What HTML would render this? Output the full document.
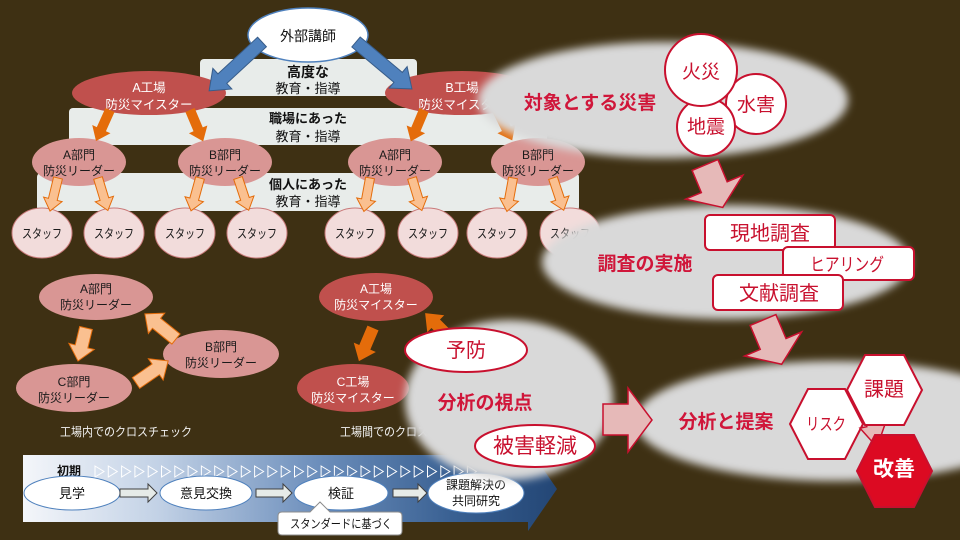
<!DOCTYPE html>
<html><head><meta charset="utf-8">
<style>
html,body{margin:0;padding:0;background:#3e3013;}
svg{display:block;}
text{font-family:"Liberation Sans","Noto Sans CJK JP",sans-serif;}
</style></head><body>
<svg width="960" height="540" viewBox="0 0 960 540" xmlns="http://www.w3.org/2000/svg">
<defs>
<filter id="blur" filterUnits="userSpaceOnUse" x="0" y="0" width="960" height="540"><feGaussianBlur stdDeviation="4.2"/></filter>
<linearGradient id="tl" x1="23" y1="0" x2="557" y2="0" gradientUnits="userSpaceOnUse">
<stop offset="0" stop-color="#f4f6fa"/>
<stop offset="0.25" stop-color="#c3d2e6"/>
<stop offset="0.55" stop-color="#6d8fbc"/>
<stop offset="0.8" stop-color="#3a6193"/>
<stop offset="1" stop-color="#234675"/>
</linearGradient>
</defs>
<rect width="960" height="540" fill="#3e3013"/>

<!-- bands -->
<rect x="200" y="59" width="217" height="37" rx="4" fill="#e8ecea"/>
<rect x="69" y="108" width="478" height="37" rx="4" fill="#e8ecea"/>
<rect x="37" y="173" width="542" height="38" rx="4" fill="#e8ecea"/>
<g font-size="13" fill="#111" text-anchor="middle">
<text x="308" y="77" font-weight="bold" font-size="14">高度な</text>
<text x="308" y="93">教育・指導</text>
<text x="308" y="123" font-weight="bold">職場にあった</text>
<text x="308" y="141">教育・指導</text>
<text x="308" y="189" font-weight="bold">個人にあった</text>
<text x="308" y="206">教育・指導</text>
</g>

<!-- factory ellipses -->
<ellipse cx="149" cy="93" rx="77" ry="22" fill="#c0504d"/>
<ellipse cx="462" cy="93" rx="77" ry="22" fill="#c0504d"/>
<g font-size="12.5" fill="#fff" text-anchor="middle">
<text x="149" y="92">A工場</text><text x="149" y="109">防災マイスター</text>
<text x="462" y="92">B工場</text><text x="462" y="109">防災マイスター</text>
</g>

<!-- dept ellipses -->
<g fill="#d99694">
<ellipse cx="79" cy="162" rx="47" ry="24"/>
<ellipse cx="225" cy="162" rx="47" ry="24"/>
<ellipse cx="395" cy="162" rx="47" ry="24"/>
<ellipse cx="538" cy="162" rx="47" ry="24"/>
</g>
<g font-size="12" fill="#1a1a1a" text-anchor="middle">
<text x="79" y="159">A部門</text><text x="79" y="175">防災リーダー</text>
<text x="225" y="159">B部門</text><text x="225" y="175">防災リーダー</text>
<text x="395" y="159">A部門</text><text x="395" y="175">防災リーダー</text>
<text x="538" y="159">B部門</text><text x="538" y="175">防災リーダー</text>
</g>

<!-- staff -->
<g fill="#f2dcdb" stroke="#c97a7a" stroke-width="1">
<ellipse cx="42" cy="233" rx="30" ry="25"/>
<ellipse cx="114" cy="233" rx="30" ry="25"/>
<ellipse cx="185" cy="233" rx="30" ry="25"/>
<ellipse cx="257" cy="233" rx="30" ry="25"/>
<ellipse cx="355" cy="233" rx="30" ry="25"/>
<ellipse cx="428" cy="233" rx="30" ry="25"/>
<ellipse cx="497" cy="233" rx="30" ry="25"/>
<ellipse cx="570" cy="233" rx="30" ry="25"/>
</g>
<g font-size="12.5" fill="#1a1a1a" text-anchor="middle">
<text x="42" y="238" textLength="40" lengthAdjust="spacingAndGlyphs">スタッフ</text>
<text x="114" y="238" textLength="40" lengthAdjust="spacingAndGlyphs">スタッフ</text>
<text x="185" y="238" textLength="40" lengthAdjust="spacingAndGlyphs">スタッフ</text>
<text x="257" y="238" textLength="40" lengthAdjust="spacingAndGlyphs">スタッフ</text>
<text x="355" y="238" textLength="40" lengthAdjust="spacingAndGlyphs">スタッフ</text>
<text x="428" y="238" textLength="40" lengthAdjust="spacingAndGlyphs">スタッフ</text>
<text x="497" y="238" textLength="40" lengthAdjust="spacingAndGlyphs">スタッフ</text>
<text x="570" y="238" textLength="40" lengthAdjust="spacingAndGlyphs">スタッフ</text>
</g>

<!-- external lecturer -->
<ellipse cx="308" cy="35" rx="60" ry="27" fill="#fff" stroke="#4f81bd" stroke-width="1.5"/>
<text x="308" y="41" font-size="14" fill="#111" text-anchor="middle">外部講師</text>

<!-- blue arrows -->
<g fill="#4f81bd" stroke="#385d8a" stroke-width="1">
<path transform="translate(262,42) rotate(137.25)" d="M0,-6.5H54V-14L72,0L54,14V6.5H0Z"/>
<path transform="translate(356,42) rotate(40)" d="M0,-6.5H55V-14L73,0L55,14V6.5H0Z"/>
</g>
<!-- orange arrows -->
<g fill="#e46c0a">
<path transform="translate(110,110) rotate(114.3)" d="M0,-5H21V-10L34,0L21,10V5H0Z"/>
<path transform="translate(190,110) rotate(67.2)" d="M0,-5H21V-10L34,0L21,10V5H0Z"/>
<path transform="translate(424,110) rotate(112.8)" d="M0,-5H21V-10L34,0L21,10V5H0Z"/>
<path transform="translate(497,110) rotate(63.4)" d="M0,-5H21V-10L34,0L21,10V5H0Z"/>
</g>
<!-- light orange arrows -->
<g fill="#fac090" stroke="#e46c0a" stroke-width="1">
<path transform="translate(58,178) rotate(103.6)" d="M0,-4.5H22V-9.5L34,0L22,9.5V4.5H0Z"/>
<path transform="translate(98,178) rotate(73.1)" d="M0,-4.5H22V-9.5L34,0L22,9.5V4.5H0Z"/>
<path transform="translate(200,178) rotate(105.3)" d="M0,-4.5H22V-9.5L34,0L22,9.5V4.5H0Z"/>
<path transform="translate(238,178) rotate(71.6)" d="M0,-4.5H22V-9.5L34,0L22,9.5V4.5H0Z"/>
<path transform="translate(370,178) rotate(100.3)" d="M0,-4.5H22V-9.5L34,0L22,9.5V4.5H0Z"/>
<path transform="translate(412,178) rotate(73.1)" d="M0,-4.5H22V-9.5L34,0L22,9.5V4.5H0Z"/>
<path transform="translate(513,178) rotate(100.3)" d="M0,-4.5H22V-9.5L34,0L22,9.5V4.5H0Z"/>
<path transform="translate(553,178) rotate(71.6)" d="M0,-4.5H22V-9.5L34,0L22,9.5V4.5H0Z"/>
</g>

<!-- cross check within factory -->
<g fill="#d99694">
<ellipse cx="96" cy="297" rx="57" ry="23"/>
<ellipse cx="221" cy="354" rx="58" ry="24"/>
<ellipse cx="74" cy="388" rx="58" ry="24"/>
</g>
<g font-size="12" fill="#1a1a1a" text-anchor="middle">
<text x="96" y="293">A部門</text><text x="96" y="309">防災リーダー</text>
<text x="221" y="351">B部門</text><text x="221" y="367">防災リーダー</text>
<text x="74" y="386">C部門</text><text x="74" y="402">防災リーダー</text>
</g>
<g fill="#fac090" stroke="#e46c0a" stroke-width="1">
<path transform="translate(86,328) rotate(103.6)" d="M0,-6.5H19V-13L34,0L19,13V6.5H0Z"/>
<path transform="translate(136,383) rotate(-34.5)" d="M0,-6.5H24V-13L39,0L24,13V6.5H0Z"/>
<path transform="translate(176,339) rotate(-141.1)" d="M0,-6.5H25V-13L40,0L25,13V6.5H0Z"/>
</g>
<text x="60" y="436" font-size="12" fill="#f2f2f2" textLength="132" lengthAdjust="spacingAndGlyphs">工場内でのクロスチェック</text>

<!-- cross check between factories -->
<ellipse cx="376" cy="297" rx="57" ry="24" fill="#c0504d"/>
<ellipse cx="353" cy="388" rx="56" ry="24" fill="#c0504d"/>
<g font-size="12" fill="#fff" text-anchor="middle">
<text x="376" y="293">A工場</text><text x="376" y="309">防災マイスター</text>
<text x="353" y="386">C工場</text><text x="353" y="402">防災マイスター</text>
</g>
<g fill="#e46c0a">
<path transform="translate(373,328) rotate(113)" d="M0,-6H21V-12L36,0L21,12V6H0Z"/>
<path transform="translate(452,340) rotate(-135)" d="M0,-6H23V-12L38,0L23,12V6H0Z"/>
</g>
<text x="340" y="436" font-size="12" fill="#f2f2f2" textLength="132" lengthAdjust="spacingAndGlyphs">工場間でのクロスチェック</text>

<!-- timeline -->
<path d="M23,455 L528,455 L528,447 L557,489 L528,531 L528,522 L23,522 Z" fill="url(#tl)"/>
<text x="57" y="475" font-size="12" font-weight="bold" fill="#111">初期</text>
<g fill="none" stroke="#fff" stroke-width="1">
<path d="M95,466 l9,5.5 l-9,5.5z M108.3,466 l9,5.5 l-9,5.5z M121.6,466 l9,5.5 l-9,5.5z M134.9,466 l9,5.5 l-9,5.5z M148.2,466 l9,5.5 l-9,5.5z M161.5,466 l9,5.5 l-9,5.5z M174.8,466 l9,5.5 l-9,5.5z M188.1,466 l9,5.5 l-9,5.5z M201.4,466 l9,5.5 l-9,5.5z M214.7,466 l9,5.5 l-9,5.5z M228,466 l9,5.5 l-9,5.5z M241.3,466 l9,5.5 l-9,5.5z M254.6,466 l9,5.5 l-9,5.5z M267.9,466 l9,5.5 l-9,5.5z M281.2,466 l9,5.5 l-9,5.5z M294.5,466 l9,5.5 l-9,5.5z M307.8,466 l9,5.5 l-9,5.5z M321.1,466 l9,5.5 l-9,5.5z M334.4,466 l9,5.5 l-9,5.5z M347.7,466 l9,5.5 l-9,5.5z M361,466 l9,5.5 l-9,5.5z M374.3,466 l9,5.5 l-9,5.5z M387.6,466 l9,5.5 l-9,5.5z M400.9,466 l9,5.5 l-9,5.5z M414.2,466 l9,5.5 l-9,5.5z M427.5,466 l9,5.5 l-9,5.5z M440.8,466 l9,5.5 l-9,5.5z M454.1,466 l9,5.5 l-9,5.5z M467.4,466 l9,5.5 l-9,5.5z"/>
</g>
<g fill="#fff" stroke="#4f81bd" stroke-width="1">
<ellipse cx="72" cy="493" rx="48" ry="17"/>
<ellipse cx="206" cy="493" rx="46" ry="17"/>
<ellipse cx="341" cy="493" rx="47" ry="17"/>
<ellipse cx="476" cy="493" rx="48" ry="20"/>
</g>
<g fill="#e6ebe8" stroke="#404040" stroke-width="1">
<path d="M120,489 L148,489 L148,484 L157,493 L148,502 L148,497 L120,497Z"/>
<path d="M256,489 L283,489 L283,484 L292,493 L283,502 L283,497 L256,497Z"/>
<path d="M393,489 L418,489 L418,484 L427,493 L418,502 L418,497 L393,497Z"/>
</g>
<g font-size="13" fill="#111" text-anchor="middle">
<text x="72" y="498">見学</text>
<text x="206" y="498">意見交換</text>
<text x="341" y="498">検証</text>
<text x="476" y="489" font-size="12">課題解決の</text>
<text x="476" y="505" font-size="12">共同研究</text>
</g>
<path d="M282,512 L310,512 L320,502 L330,512 L398,512 Q402,512 402,516 L402,531 Q402,535 398,535 L282,535 Q278,535 278,531 L278,516 Q278,512 282,512Z" fill="#fff" stroke="#8c8c8c" stroke-width="1"/>
<text x="341" y="528" font-size="12" fill="#111" text-anchor="middle" textLength="102" lengthAdjust="spacingAndGlyphs">スタンダードに基づく</text>

<!-- gray blurred blobs -->
<g filter="url(#blur)" fill="#d9d9d9">
<ellipse cx="663" cy="100" rx="185" ry="58"/>
<ellipse cx="726" cy="262" rx="184" ry="57"/>
<ellipse cx="835" cy="421" rx="200" ry="60"/>
<ellipse cx="509" cy="400" rx="104" ry="80"/>
</g>

<!-- right side: disasters -->
<g fill="#fff" stroke="#c8102e" stroke-width="2">
<circle cx="756" cy="104" r="30"/>
<circle cx="706" cy="127" r="29"/>
<circle cx="701" cy="70" r="36"/>
</g>
<g font-size="19" fill="#c8102e" text-anchor="middle">
<text x="756" y="111">水害</text>
<text x="706" y="133">地震</text>
<text x="701" y="78">火災</text>
</g>
<g font-size="19" font-weight="bold" fill="#d0163a" text-anchor="middle">
<text x="590" y="109">対象とする災害</text>
<text x="645" y="270">調査の実施</text>
<text x="485" y="409">分析の視点</text>
<text x="726" y="428">分析と提案</text>
</g>

<!-- pink arrows -->
<g fill="#e6b9b8" stroke="#c8102e" stroke-width="1.5">
<path transform="translate(705,165) rotate(67.3)" d="M0,-14H24V-31L46,0L24,31V14H0Z"/>
<path transform="translate(763,320) rotate(67.1)" d="M0,-14H26V-31L48,0L26,31V14H0Z"/>
<path d="M603,404 L628,404 L628,388 L652,420 L628,452 L628,435 L603,435Z"/>
</g>

<!-- survey boxes -->
<g fill="#fff" stroke="#c8102e" stroke-width="2">
<rect x="705" y="215" width="130" height="35" rx="5"/>
<rect x="783" y="247" width="131" height="33" rx="5"/>
<rect x="713" y="275" width="130" height="35" rx="5"/>
</g>
<g font-size="20" fill="#c8102e" text-anchor="middle">
<text x="770" y="240">現地調査</text>
<text x="847" y="271" font-size="18" textLength="74" lengthAdjust="spacingAndGlyphs">ヒアリング</text>
<text x="779" y="300">文献調査</text>
</g>

<!-- viewpoint ellipses -->
<g fill="#fff" stroke="#c8102e" stroke-width="2">
<ellipse cx="466" cy="350" rx="61" ry="22"/>
<ellipse cx="535" cy="446" rx="60" ry="21"/>
</g>
<g fill="#c8102e" text-anchor="middle">
<text x="466" y="357" font-size="20">予防</text>
<text x="535" y="453" font-size="21">被害軽減</text>
</g>

<!-- hexagons -->
<polygon points="790,424 808,389 845,389 863,424 845,459 808,459" fill="#fff" stroke="#c8102e" stroke-width="2"/>
<path transform="translate(868,402) rotate(78.7)" d="M0,-6H24V-13L46,0L24,13V6H0Z" fill="#e6b9b8" stroke="#c8102e" stroke-width="1.5"/>
<polygon points="847,390 865,355 904,355 922,390 904,425 865,425" fill="#fff" stroke="#c8102e" stroke-width="2"/>
<polygon points="857,471 875,435 914,435 932,471 914,507 875,507" fill="#dc0a22" stroke="#c8102e" stroke-width="2"/>
<text x="826" y="430" font-size="17" fill="#c8102e" text-anchor="middle" textLength="40" lengthAdjust="spacingAndGlyphs">リスク</text>
<text x="884" y="396" font-size="20" fill="#c8102e" text-anchor="middle">課題</text>
<text x="894" y="476" font-size="21" font-weight="bold" fill="#fff" text-anchor="middle">改善</text>
</svg>
</body></html>
